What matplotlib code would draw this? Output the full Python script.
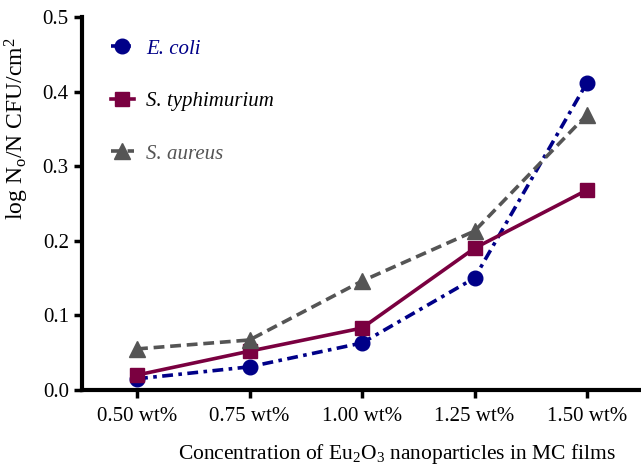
import matplotlib
matplotlib.use("Agg")
import matplotlib.pyplot as plt

plt.rcParams['font.family'] = ['Liberation Serif', 'DejaVu Serif']
plt.rcParams['mathtext.fontset'] = 'custom'
plt.rcParams['mathtext.rm'] = 'Liberation Serif'
plt.rcParams['mathtext.it'] = 'Liberation Serif:italic'

categories = ['0.50 wt%', '0.75 wt%', '1.00 wt%', '1.25 wt%', '1.50 wt%']
ecoli = [0.015, 0.031, 0.063, 0.150, 0.412]
styphi = [0.020, 0.052, 0.083, 0.190, 0.268]
saureus = [0.055, 0.067, 0.146, 0.213, 0.369]
yticks = [0.0, 0.1, 0.2, 0.3, 0.4, 0.5]

c_ecoli = '#000088'
c_styphi = '#7a0040'
c_saureus = '#555555'

fig = plt.figure(figsize=(6.41, 4.67), dpi=100)
ax = fig.add_axes([0.128, 0.165, 0.872, 0.7986])

x = list(range(len(categories)))
ax.plot(x, ecoli, color=c_ecoli, linestyle=(0, (3.0, 1.5, 1.0, 1.5)), linewidth=2.6,
        marker='o', markersize=10.5, label='E. coli')
ax.plot(x, styphi, color=c_styphi, linestyle='-', linewidth=2.6,
        marker='s', markersize=10, label='S. typhimurium')
ax.plot(x, saureus, color=c_saureus, linestyle=(0, (3.0, 1.6)), linewidth=2.6,
        marker='^', markersize=11, label='S. aureus')

ax.set_xlim(-0.489, 4.48)
ax.set_ylim(0, 0.5)
ax.set_xticks(x)
ax.set_xticklabels(categories)
ax.set_yticks(yticks)
ax.set_yticklabels([f'{v:.1f}' for v in yticks])
ax.tick_params(axis='both', labelsize=15, width=2.5, length=6, direction='out')
ax.tick_params(axis='x', pad=6)
for side in ['top', 'right']:
    ax.spines[side].set_visible(False)
for side in ['left', 'bottom']:
    ax.spines[side].set_linewidth(3)

ax.set_xlabel('Concentration of Eu$_2$O$_3$ nanoparticles in MC films', fontsize=15.5)
ax.xaxis.set_label_coords(0.5635, -0.14)
ax.set_ylabel(r'log N$_\mathrm{o}$/N CFU/cm$^2$', fontsize=17)
ax.yaxis.set_label_coords(-0.092, 0.70)

leg = ax.legend(loc='upper left', bbox_to_anchor=(0.025, 0.98), frameon=False,
                fontsize=15, handlelength=1.1, handletextpad=0.6,
                labelspacing=1.58, borderaxespad=0.3)
for t, c in zip(leg.get_texts(), [c_ecoli, 'black', c_saureus]):
    t.set_color(c)
    t.set_fontstyle('italic')

fig.savefig('out.png', dpi=100)
